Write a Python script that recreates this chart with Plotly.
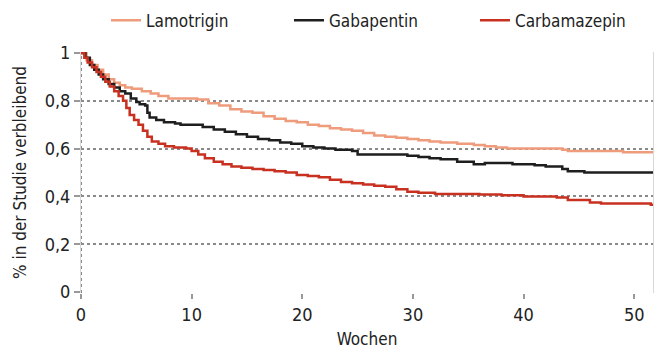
import plotly.graph_objects as go

# Kaplan-Meier-like step data (weeks, fraction remaining)
lam_t = [0, 0.5, 1, 1.5, 2, 2.5, 3, 3.5, 4, 4.6, 5.5, 6.3, 7, 7.9, 9, 10.5, 11.5, 12.5, 13.5, 14.5,
         15.5, 16.5, 17.5, 18.5, 19.5, 20.5, 21.5, 22.5, 23.5, 24.5, 25.5, 26.5, 27.5, 28.5, 29.5,
         30.5, 31.5, 32.5, 34, 35.5, 36.5, 37.5, 38.5, 43.5, 44, 49, 52]
lam_v = [1.0, 0.97, 0.95, 0.93, 0.91, 0.89, 0.875, 0.865, 0.855, 0.85, 0.84, 0.83, 0.82, 0.81, 0.81,
         0.805, 0.79, 0.78, 0.765, 0.755, 0.75, 0.735, 0.725, 0.715, 0.71, 0.70, 0.695, 0.685, 0.68,
         0.675, 0.665, 0.655, 0.65, 0.645, 0.64, 0.635, 0.63, 0.625, 0.62, 0.615, 0.61, 0.605, 0.60,
         0.595, 0.59, 0.585, 0.585]

gab_t = [0, 0.4, 0.8, 1.2, 1.6, 2, 2.5, 3, 3.5, 4, 4.5, 5, 5.3, 5.8, 6, 6.2, 6.8, 7.5, 8.5, 9, 11,
         12, 13, 14, 15, 16, 17, 18, 19, 20, 21, 22, 23, 24.5, 25, 28, 29.5, 30.5, 31.5, 32.5, 34,
         35.5, 36.5, 39, 41, 42, 43.5, 44, 45.5, 52]
gab_v = [1.0, 0.98, 0.95, 0.93, 0.91, 0.89, 0.87, 0.855, 0.84, 0.83, 0.81, 0.795, 0.785, 0.78, 0.75,
         0.73, 0.72, 0.71, 0.705, 0.70, 0.69, 0.68, 0.67, 0.66, 0.65, 0.64, 0.635, 0.625, 0.62, 0.61,
         0.605, 0.60, 0.595, 0.59, 0.575, 0.575, 0.57, 0.565, 0.56, 0.555, 0.545, 0.535, 0.54, 0.535,
         0.53, 0.525, 0.515, 0.505, 0.50, 0.50]

car_t = [0, 0.3, 0.6, 1, 1.4, 1.8, 2.2, 2.6, 3, 3.4, 3.8, 4.1, 4.4, 4.8, 5.2, 5.6, 6, 6.4, 7, 7.6,
         8.4, 9.5, 10, 10.6, 11.2, 12, 12.8, 13.6, 14.5, 15.5, 16.5, 17.5, 18.5, 19.5, 20.5, 21.5,
         22.5, 23.5, 24.5, 25.5, 26.5, 27.5, 28.5, 29.5, 30.5, 32, 36, 38, 40, 43, 44, 46, 47, 51.5, 52]
car_v = [1.0, 0.98, 0.96, 0.94, 0.92, 0.90, 0.88, 0.86, 0.84, 0.82, 0.80, 0.77, 0.74, 0.72, 0.70,
         0.675, 0.65, 0.63, 0.62, 0.61, 0.605, 0.60, 0.59, 0.575, 0.56, 0.545, 0.535, 0.525, 0.52,
         0.515, 0.51, 0.505, 0.50, 0.49, 0.485, 0.48, 0.47, 0.46, 0.455, 0.45, 0.445, 0.44, 0.43,
         0.42, 0.415, 0.41, 0.408, 0.405, 0.40, 0.395, 0.385, 0.375, 0.37, 0.365, 0.355]

series_names = ["Lamotrigin", "Gabapentin", "Carbamazepin"]
series_colors = ["#EE9C7C", "#1E1E1E", "#C83020"]

x_ticks = [0, 10, 20, 30, 40, 50]
y_ticks = [0, 0.2, 0.4, 0.6, 0.8, 1]
y_tick_labels = ["0", "0,2", "0,4", "0,6", "0,8", "1"]

FONT = "DejaVu Sans Condensed, Liberation Sans Narrow, sans-serif"

legend_ids = ["legend", "legend2", "legend3"]
legend_x = [0.0437, 0.3636, 0.6888]

fig = go.Figure()
for name, t, v, c, lid in zip(series_names, [lam_t, gab_t, car_t], [lam_v, gab_v, car_v],
                              series_colors, legend_ids):
    fig.add_trace(go.Scatter(x=t, y=v, mode="lines", name=name, legend=lid, showlegend=True,
                             line=dict(color=c, width=2.5, shape="hv")))

fig.add_vline(x=0, line=dict(color="#8a8a8a", width=2, dash="dot"), layer="below")

legend_style = dict(orientation="h", xanchor="left", y=1.13, yanchor="middle",
                    font=dict(size=17, family=FONT, color="#222"), bgcolor="rgba(0,0,0,0)")

fig.update_layout(
    width=654, height=354,
    showlegend=True,
    margin=dict(l=81, r=1, t=52, b=61, autoexpand=False),
    paper_bgcolor="white", plot_bgcolor="white",
    font=dict(family=FONT, size=16, color="#222"),
    legend=dict(x=legend_x[0], visible=True, **legend_style),
    legend2=dict(x=legend_x[1], visible=True, **legend_style),
    legend3=dict(x=legend_x[2], visible=True, **legend_style),
    xaxis=dict(range=[0, 51.7], tickvals=x_ticks, showgrid=False, zeroline=False,
               ticks="outside", ticklen=5, tickwidth=2, tickcolor="#999", automargin=False,
               showline=False, title=dict(text="Wochen", font=dict(size=17), standoff=9),
               tickfont=dict(size=18)),
    yaxis=dict(range=[-0.004, 1.004], tickvals=y_ticks, ticktext=y_tick_labels, automargin=False,
               showgrid=True, gridcolor="#8a8a8a", gridwidth=2, griddash="dot",
               zeroline=False, ticks="outside", ticklen=6, tickwidth=2, tickcolor="#999",
               showline=True, mirror=True, linecolor="#d8d8d8", linewidth=1,
               title=dict(text="% in der Studie verbleibend", font=dict(size=17), standoff=13),
               tickfont=dict(size=18)),
)

fig.write_html("out.html", config={"displayModeBar": False},
               post_script="document.body.style.margin='0';document.body.style.padding='0';")
